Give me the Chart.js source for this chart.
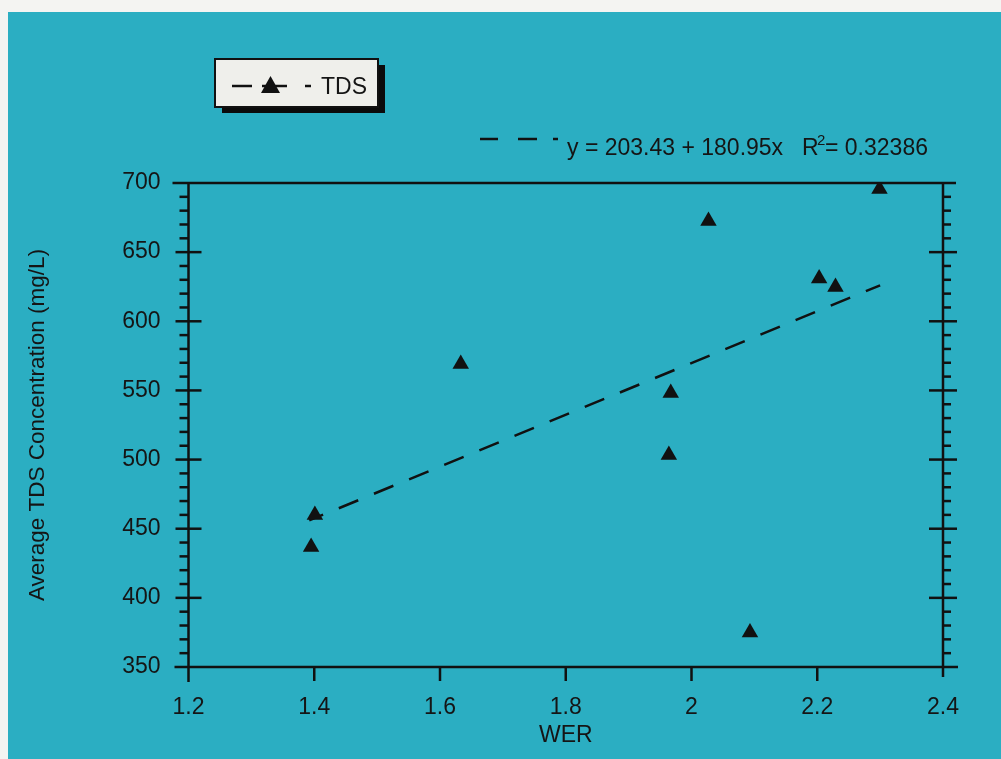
<!DOCTYPE html>
<html lang="en">
<head>
  <meta charset="UTF-8">
  <title>Average TDS Concentration vs WER</title>
  <script src="https://cdn.jsdelivr.net/npm/chart.js"></script>
  <style>
    html, body { margin: 0; padding: 0; background: #f4f4f2; }
    body { width: 1001px; height: 759px; position: relative; overflow: hidden; }
    .panel { position: absolute; left: 8px; top: 12px; right: 0; bottom: 0; background: #2baec2; }
    canvas { position: absolute; left: 0; top: 0; }
  </style>
</head>
<body>
<div class="panel"></div>
<canvas id="tds" width="1001" height="759"></canvas>

<script>
// measured points (WER, average TDS mg/L)
const werValues = [1.395, 1.401, 1.633, 1.967, 1.964, 2.027, 2.093, 2.203, 2.229, 2.299];
const tdsValues = [436.8, 459.9, 569.1, 548.1, 503.3, 672.5, 374.9, 630.9, 624.8, 695.6];

// dashed fit line, end points
const fitWer = [1.392, 2.300];
const fitTds = [456, 626];

const xTicks = [1.2, 1.4, 1.6, 1.8, 2, 2.2, 2.4];
const yTicks = [350, 400, 450, 500, 550, 600, 650, 700];

const seriesName = 'TDS';
const fitLabel = 'y = 203.43 + 180.95x';
const r2Label = '0.32386';

const FONT = "'Liberation Sans', Arial, sans-serif";
const INK = '#151515';

const frame = {
  id: 'frame',
  beforeDatasetsDraw(chart) {
    const { ctx, scales: { x, y } } = chart;
    const L = x.getPixelForValue(xTicks[0]);
    const R = x.getPixelForValue(xTicks[xTicks.length - 1]);
    const T = y.getPixelForValue(yTicks[yTicks.length - 1]);
    const B = y.getPixelForValue(yTicks[0]);
    const seg = (x1, y1, x2, y2) => { ctx.beginPath(); ctx.moveTo(x1, y1); ctx.lineTo(x2, y2); ctx.stroke(); };

    ctx.save();
    ctx.strokeStyle = '#111';
    ctx.lineWidth = 2.5;
    seg(L - 16, T, R + 13, T);
    seg(L - 14, B, R + 15, B);
    seg(L, T, L, B + 15);
    seg(R, T, R, B + 10);

    // y ticks: majors cross the axis, minors every 10 sit outside
    for (let v = yTicks[0]; v <= yTicks[yTicks.length - 1]; v += 10) {
      const py = y.getPixelForValue(v);
      if (v % 50 === 0) {
        if (v !== yTicks[0] && v !== yTicks[yTicks.length - 1]) {
          seg(L - 13, py, L + 13, py);
          seg(R - 14, py, R + 14, py);
        }
      } else {
        seg(L - 9, py, L, py);
        seg(R, py, R + 8, py);
      }
    }
    // x ticks below the axis
    xTicks.slice(1, -1).forEach(v => {
      const px = x.getPixelForValue(v);
      seg(px, B, px, B + 14);
    });
    ctx.restore();
  },
  afterDraw(chart) {
    const { ctx } = chart;
    ctx.save();
    // legend box with drop shadow
    ctx.fillStyle = '#0b0b0b';
    ctx.fillRect(222, 65, 163, 48);
    ctx.fillStyle = '#efefeb';
    ctx.fillRect(215, 59, 163, 48);
    ctx.strokeStyle = '#111';
    ctx.lineWidth = 2;
    ctx.strokeRect(215, 59, 163, 48);

    ctx.lineWidth = 2.5;
    const ly = 86;
    [[232, 252], [262, 287], [305, 311]].forEach(([a, b]) => {
      ctx.beginPath(); ctx.moveTo(a, ly); ctx.lineTo(b, ly); ctx.stroke();
    });
    ctx.fillStyle = '#111';
    ctx.beginPath();
    ctx.moveTo(270.5, 76); ctx.lineTo(280, 93); ctx.lineTo(261, 93); ctx.closePath();
    ctx.fill();

    ctx.fillStyle = INK;
    ctx.font = '23px ' + FONT;
    ctx.textBaseline = 'alphabetic';
    ctx.textAlign = 'left';
    ctx.fillText(seriesName, 321, 94);

    // fit equation
    const ey = 139;
    [[480, 498], [518, 537], [553, 558]].forEach(([a, b]) => {
      ctx.beginPath(); ctx.moveTo(a, ey); ctx.lineTo(b, ey); ctx.stroke();
    });
    ctx.fillText(fitLabel, 567, 155);
    ctx.fillText('R', 802, 155);
    ctx.font = '15px ' + FONT;
    ctx.fillText('2', 817, 145);
    ctx.font = '23px ' + FONT;
    ctx.fillText('= ' + r2Label, 825, 155);
    ctx.restore();
  }
};

const chart = new Chart(document.getElementById('tds'), {
  type: 'scatter',
  data: {
    datasets: [
      {
        label: seriesName,
        data: werValues.map((w, i) => ({ x: w, y: tdsValues[i] })),
        pointStyle: 'triangle',
        pointRadius: 9.5,
        pointBackgroundColor: '#111',
        pointBorderColor: '#111',
        pointBorderWidth: 0,
        showLine: false
      },
      {
        label: 'fit',
        data: fitWer.map((w, i) => ({ x: w, y: fitTds[i] })),
        showLine: true,
        borderColor: '#111',
        borderWidth: 2.5,
        borderDash: [21, 17],
        borderDashOffset: 6,
        pointRadius: 0,
        fill: false
      }
    ]
  },
  options: {
    responsive: false,
    animation: false,
    devicePixelRatio: 1,
    layout: { padding: { top: 183, right: 58, left: 0, bottom: 0 } },
    plugins: { legend: { display: false }, tooltip: { enabled: false } },
    scales: {
      x: {
        type: 'linear',
        min: 1.2, max: 2.4,
        afterFit: s => { s.height = 92; },
        afterBuildTicks: s => { s.ticks = xTicks.map(v => ({ value: v })); },
        grid: { display: false, drawTicks: false },
        border: { display: false },
        ticks: {
          padding: 27,
          color: INK,
          font: { family: FONT, size: 23 },
          callback: v => String(+Number(v).toFixed(1))
        },
        title: {
          display: true, text: 'WER', color: INK,
          font: { family: FONT, size: 23 },
          padding: { top: 0, bottom: 10 }
        }
      },
      y: {
        min: 350, max: 700,
        afterFit: s => { s.width = 188.5; },
        afterBuildTicks: s => { s.ticks = yTicks.map(v => ({ value: v })); },
        grid: { display: false, drawTicks: false },
        border: { display: false },
        ticks: {
          padding: 28,
          color: INK,
          font: { family: FONT, size: 23 }
        },
        title: {
          display: true, text: 'Average TDS Concentration (mg/L)', color: INK,
          font: { family: FONT, size: 22.5 },
          padding: { top: 24, bottom: 0 }
        }
      }
    }
  },
  plugins: [frame]
});
</script>
</body>
</html>
